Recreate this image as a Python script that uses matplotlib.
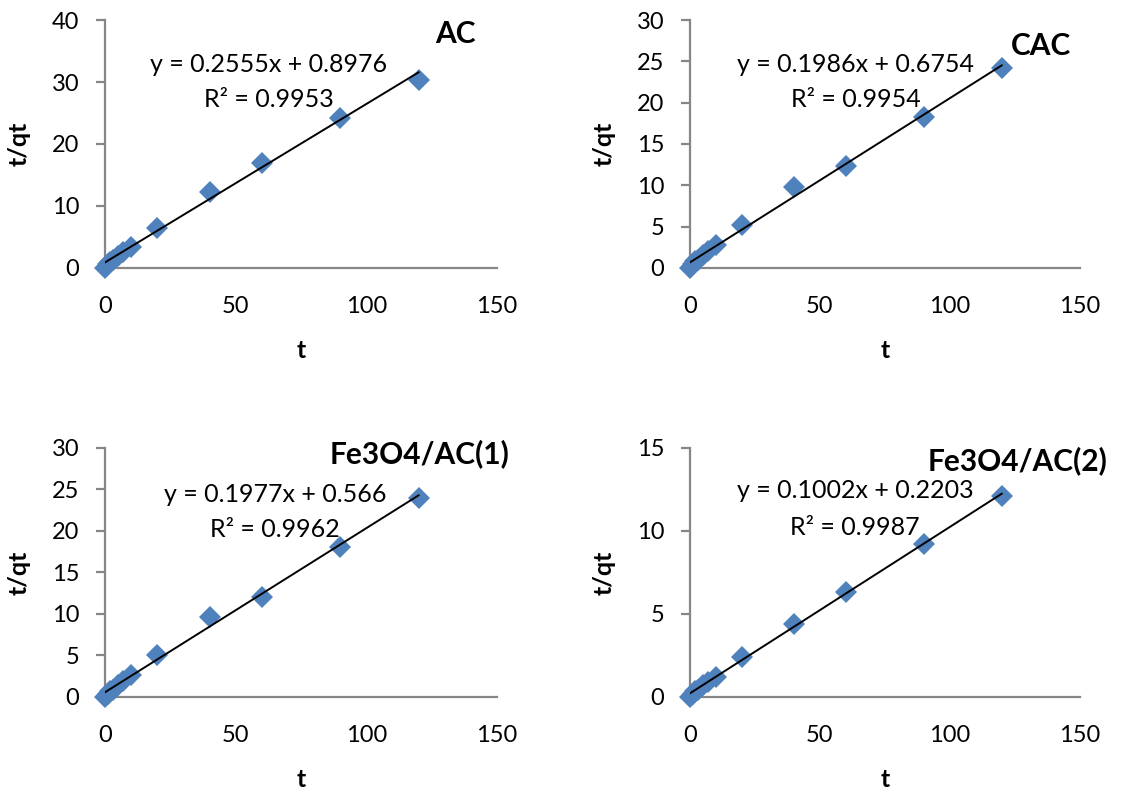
import numpy as np
import matplotlib.pyplot as plt

plt.rcParams['font.family'] = ['Lato', 'DejaVu Sans']

# contact time (min)
t = [0, 1, 2, 3, 5, 7, 10, 20, 40, 60, 90, 120]

# t/qt for each adsorbent
ac = [0, 0.6, 1.0, 1.3, 2.0, 2.6, 3.4, 6.4, 12.3, 16.9, 24.2, 30.4]
cac = [0, 0.5, 0.8, 1.0, 1.6, 2.1, 2.8, 5.2, 9.8, 12.3, 18.3, 24.2]
fe1 = [0, 0.4, 0.7, 0.9, 1.4, 1.9, 2.7, 5.0, 9.6, 12.1, 18.1, 24.0]
fe2 = [0, 0.2, 0.35, 0.45, 0.7, 0.9, 1.2, 2.4, 4.4, 6.3, 9.2, 12.1]

names = ['AC', 'CAC', 'Fe3O4/AC(1)', 'Fe3O4/AC(2)']
slopes = [0.2555, 0.1986, 0.1977, 0.1002]
intercepts = [0.8976, 0.6754, 0.566, 0.2203]
r2 = ['0.9953', '0.9954', '0.9962', '0.9987']
eq_txt = ['y = 0.2555x + 0.8976', 'y = 0.1986x + 0.6754',
          'y = 0.1977x + 0.566', 'y = 0.1002x + 0.2203']
ymax = [40, 30, 30, 15]
ystep = [10, 5, 5, 5]

series = [ac, cac, fe1, fe2]

# panel positions (left, bottom, width, height)
boxes = [[0.0935, 0.6625, 0.349, 0.3123],
         [0.6144, 0.6625, 0.347, 0.3123],
         [0.0935, 0.1222, 0.349, 0.3136],
         [0.6144, 0.1222, 0.347, 0.3136]]
# text baselines in axes fraction
eq_pos = [(0.417, 0.79), (0.425, 0.79), (0.434, 0.783), (0.424, 0.80)]
r2_pos = [(0.417, 0.649), (0.425, 0.649), (0.434, 0.643), (0.424, 0.65)]
name_pos = [(0.893, 0.907), (0.90, 0.859), (0.802, 0.94), (0.841, 0.912)]

fig = plt.figure(figsize=(11.23, 7.94), dpi=100)
grey = '#868686'

for i in range(4):
    ax = fig.add_axes(boxes[i])
    ax.plot(t, series[i], 'D', color='#4F81BD', markersize=11.5, markeredgewidth=0,
            zorder=3, clip_on=False)
    xx = np.array([0, 120])
    ax.plot(xx, slopes[i] * xx + intercepts[i], color='black', lw=1.4, zorder=4)
    ax.set_xlim(0, 150)
    ax.set_ylim(0, ymax[i])
    ax.set_xticks(np.arange(0, 151, 50))
    ax.set_yticks(np.arange(0, ymax[i] + 1, ystep[i]))
    for s in ['top', 'right']:
        ax.spines[s].set_visible(False)
    for s in ['left', 'bottom']:
        ax.spines[s].set_color(grey)
        ax.spines[s].set_linewidth(1.6)
    ax.tick_params(colors=grey, labelcolor='black', labelsize=17, length=6.5, width=1.6)
    ax.tick_params(axis='y', pad=12)
    ax.tick_params(axis='x', pad=20, length=0)
    ax.set_xlabel('t', fontsize=18, fontweight='bold', labelpad=16)
    ax.set_ylabel('t/qt', fontsize=18, fontweight='bold', labelpad=15)
    ax.text(*eq_pos[i], eq_txt[i], transform=ax.transAxes, ha='center', va='baseline', fontsize=18)
    ax.text(*r2_pos[i], 'R² = ' + r2[i], transform=ax.transAxes, ha='center', va='baseline', fontsize=18)
    ax.text(*name_pos[i], names[i], transform=ax.transAxes, ha='center', va='baseline',
            fontsize=21.5, fontweight='bold')

fig.savefig('out.png', dpi=100)
